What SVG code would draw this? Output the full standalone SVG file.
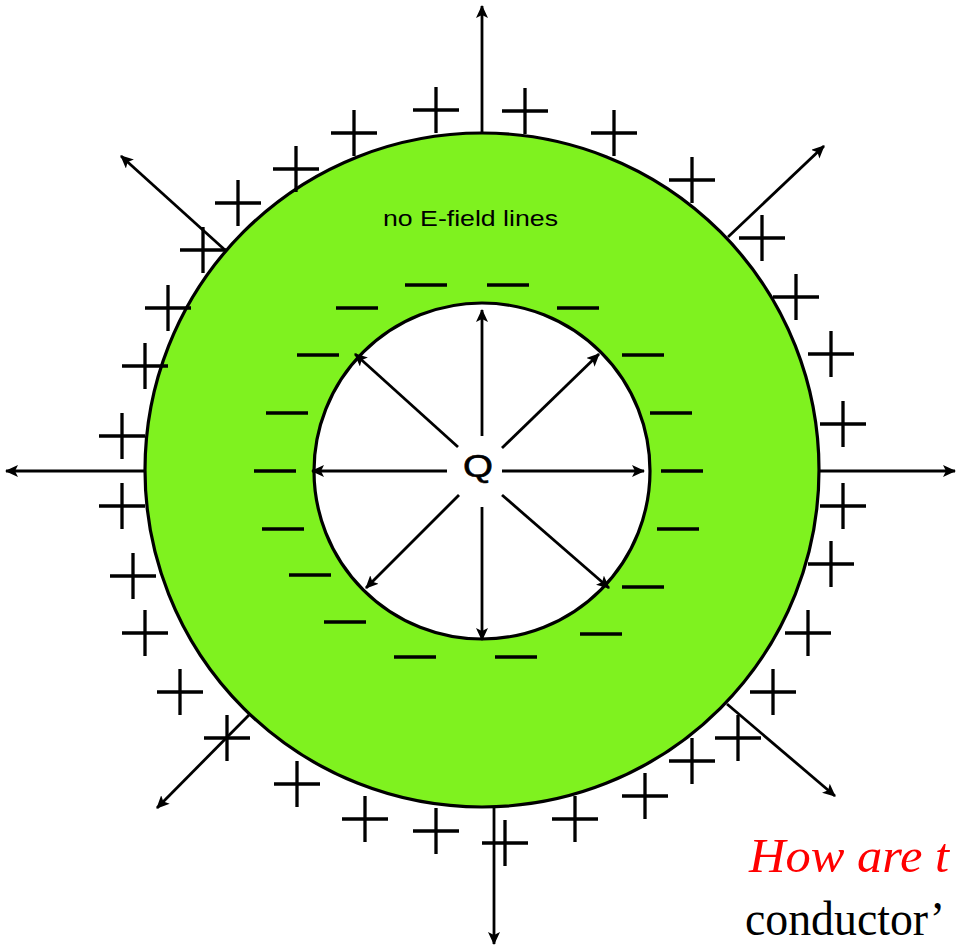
<svg xmlns="http://www.w3.org/2000/svg" xmlns:xlink="http://www.w3.org/1999/xlink" width="956" height="947" viewBox="0 0 956 947">
<style>
  .ring { stroke: #000; stroke-width: 3.2; }
  .arrow { fill: none; stroke: #000; stroke-width: 2.8; marker-end: url(#ah); }
  .charge { fill: none; stroke: #000; stroke-width: 3.3; }
  .sans { font-family: "Liberation Sans", Arial, sans-serif; fill: #000; }
  .serif { font-family: "Liberation Serif", "Times New Roman", serif; font-size: 48px; }
</style>
<defs>
  <marker id="ah" markerUnits="userSpaceOnUse" markerWidth="13" markerHeight="12" refX="12" refY="6" orient="auto">
    <path d="M0,0 L13,6 L0,12 L3,6 z" fill="#000"/>
  </marker>
  <path id="plus" class="charge" d="M-23,0 H23 M0,-23 V23"/>
  <path id="minus" class="charge" d="M-21,0 H21"/>
</defs>
<rect width="956" height="947" fill="#fff"/>

<g id="conductor-shell">
  <circle class="ring" cx="482" cy="470" r="337" fill="#7ff21f"/>
</g>
<g id="cavity">
  <circle class="ring" cx="482" cy="471" r="168" fill="#fff"/>
</g>

<g id="connectors">
  <!-- field lines inside cavity -->
  <line class="arrow" x1="482" y1="436" x2="482" y2="310"/>
  <line class="arrow" x1="482" y1="507" x2="482" y2="640"/>
  <line class="arrow" x1="447" y1="471" x2="312" y2="471"/>
  <line class="arrow" x1="502" y1="471" x2="644" y2="471"/>
  <line class="arrow" x1="458" y1="447" x2="355" y2="354"/>
  <line class="arrow" x1="502" y1="448" x2="599" y2="354"/>
  <line class="arrow" x1="459" y1="495" x2="366" y2="588"/>
  <line class="arrow" x1="502" y1="495" x2="609" y2="588"/>
  <!-- field lines outside conductor -->
  <line class="arrow" x1="482" y1="133" x2="482" y2="6"/>
  <line class="arrow" x1="728" y1="237" x2="824" y2="146"/>
  <line class="arrow" x1="818" y1="471" x2="955" y2="471"/>
  <line class="arrow" x1="727" y1="704" x2="835" y2="796"/>
  <line class="arrow" x1="494" y1="807" x2="494" y2="944"/>
  <line class="arrow" x1="249" y1="715" x2="157" y2="808"/>
  <line class="arrow" x1="146" y1="471" x2="6" y2="471"/>
  <line class="arrow" x1="225" y1="250" x2="121" y2="156"/>
</g>

<g id="positive-charges">
  <use xlink:href="#plus" x="436" y="110"/>
  <use xlink:href="#plus" x="525" y="111"/>
  <use xlink:href="#plus" x="614" y="133"/>
  <use xlink:href="#plus" x="692" y="180"/>
  <use xlink:href="#plus" x="762" y="238"/>
  <use xlink:href="#plus" x="796" y="297"/>
  <use xlink:href="#plus" x="831" y="354"/>
  <use xlink:href="#plus" x="843" y="424"/>
  <use xlink:href="#plus" x="843" y="506"/>
  <use xlink:href="#plus" x="831" y="564"/>
  <use xlink:href="#plus" x="808" y="633"/>
  <use xlink:href="#plus" x="773" y="692"/>
  <use xlink:href="#plus" x="738" y="738"/>
  <use xlink:href="#plus" x="692" y="761"/>
  <use xlink:href="#plus" x="645" y="796"/>
  <use xlink:href="#plus" x="575" y="819"/>
  <use xlink:href="#plus" x="505" y="843"/>
  <use xlink:href="#plus" x="354" y="133"/>
  <use xlink:href="#plus" x="296" y="169"/>
  <use xlink:href="#plus" x="238" y="203"/>
  <use xlink:href="#plus" x="203" y="250"/>
  <use xlink:href="#plus" x="168" y="308"/>
  <use xlink:href="#plus" x="145" y="366"/>
  <use xlink:href="#plus" x="122" y="436"/>
  <use xlink:href="#plus" x="122" y="506"/>
  <use xlink:href="#plus" x="133" y="576"/>
  <use xlink:href="#plus" x="145" y="633"/>
  <use xlink:href="#plus" x="180" y="692"/>
  <use xlink:href="#plus" x="227" y="738"/>
  <use xlink:href="#plus" x="297" y="784"/>
  <use xlink:href="#plus" x="365" y="819"/>
  <use xlink:href="#plus" x="436" y="831"/>
</g>

<g id="negative-charges">
  <use xlink:href="#minus" x="426" y="285"/>
  <use xlink:href="#minus" x="508" y="285"/>
  <use xlink:href="#minus" x="357" y="308"/>
  <use xlink:href="#minus" x="578" y="308"/>
  <use xlink:href="#minus" x="318" y="355"/>
  <use xlink:href="#minus" x="643" y="355"/>
  <use xlink:href="#minus" x="287" y="413"/>
  <use xlink:href="#minus" x="671" y="413"/>
  <use xlink:href="#minus" x="275" y="471"/>
  <use xlink:href="#minus" x="682" y="471"/>
  <use xlink:href="#minus" x="283" y="529"/>
  <use xlink:href="#minus" x="678" y="529"/>
  <use xlink:href="#minus" x="310" y="575"/>
  <use xlink:href="#minus" x="643" y="587"/>
  <use xlink:href="#minus" x="345" y="622"/>
  <use xlink:href="#minus" x="601" y="634"/>
  <use xlink:href="#minus" x="415" y="657"/>
  <use xlink:href="#minus" x="516" y="657"/>
</g>

<g id="charge-Q">
  <text class="sans" x="463" y="477" font-size="31" stroke="#000" stroke-width="0.6" textLength="30" lengthAdjust="spacingAndGlyphs">Q</text>
</g>
<g id="label-no-field">
  <text class="sans" x="383" y="226" font-size="22" textLength="175" lengthAdjust="spacingAndGlyphs">no E-field lines</text>
</g>
<g id="caption">
  <text class="serif" x="749" y="872" font-size="50" font-style="italic" fill="#ff0000" textLength="200" lengthAdjust="spacingAndGlyphs">How are t</text>
  <text class="serif" x="745" y="935" fill="#000" textLength="200" lengthAdjust="spacingAndGlyphs">conductor’</text>
</g>
</svg>
